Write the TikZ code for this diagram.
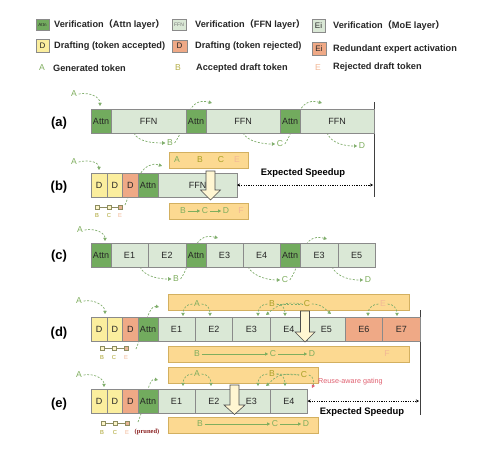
\documentclass[tikz,border=0pt]{standalone}
\usepackage{fontspec}
\setmainfont{Liberation Sans}
\newfontfamily\cjk{Noto Sans CJK SC}
\newfontfamily\serifb{Liberation Serif}
\usetikzlibrary{arrows.meta}
\definecolor{attn}{HTML}{72AB5E}
\definecolor{ffn}{HTML}{DAE8D6}
\definecolor{dyel}{HTML}{FBEE9E}
\definecolor{dred}{HTML}{EFA986}
\definecolor{tokfill}{HTML}{FCD991}
\definecolor{tokborder}{HTML}{D3B060}
\definecolor{cellborder}{HTML}{8A8A8A}
\definecolor{arcgreen}{HTML}{80AE6C}
\definecolor{tokgreen}{HTML}{7FAE5E}
\definecolor{olive}{HTML}{A8A026}
\definecolor{peach}{HTML}{F2B896}
\definecolor{gatered}{HTML}{E06070}
\definecolor{prunedred}{HTML}{8B2020}
\definecolor{arrowfill}{HTML}{FFF6D2}
\definecolor{sqborder}{HTML}{8C8C60}
\definecolor{sqfill}{HTML}{FDF5C8}
\definecolor{sqred}{HTML}{E8B494}
\newcommand\mkcell[7]{\node[cellbox,fill=#6,minimum width=#3pt,minimum height=#5pt] (#1) at ({#2+#3/2},{#4+#5/2}) {#7};}
\newcommand\mktok[5]{\node[tokbox,minimum width=#3pt,minimum height=#5pt] (#1) at ({#2+#3/2},{#4+#5/2}) {};}
\begin{document}
\begin{tikzpicture}[x=1pt,y=-1pt,
 cellbox/.style={draw=cellborder, line width=0.5pt, inner sep=0pt, outer sep=0pt, font=\fontsize{9}{10}\selectfont, text=black!85},
 tokbox/.style={draw=tokborder, fill=tokfill, line width=0.5pt, inner sep=0pt, outer sep=0pt},
 tok/.style={inner sep=1.5pt, font=\fontsize{8.6}{9}\selectfont},
 arcline/.style={draw=arcgreen, line width=0.7pt, dash pattern=on 2pt off 1.6pt, -{Triangle[length=3.2pt,width=3.4pt]}},
 tokarrow/.style={draw=tokgreen, line width=0.6pt, -{Triangle[length=3pt,width=3pt]}},
 lbl/.style={font=\bfseries\fontsize{13}{14}\selectfont},
 legtext/.style={anchor=west, inner sep=0pt, font=\bfseries\fontsize{9.2}{10}\selectfont, text=black!85},
 speed/.style={font=\bfseries\fontsize{9.4}{10}\selectfont, inner sep=0pt},
 dotarrow/.style={line width=0.6pt, dash pattern=on 1.2pt off 1.2pt, {Stealth[length=3pt,width=3pt]}-{Stealth[length=3pt,width=3pt]}},
 vline/.style={line width=0.9pt, draw=black!75},
 bigarrow/.style={fill=arrowfill, draw=black!70, line width=0.6pt, line join=miter},
 sq/.style={draw=sqborder, fill=sqfill, line width=0.4pt, minimum size=3.6pt, inner sep=0pt},
 sqline/.style={draw=sqborder, line width=0.4pt},
 sqlab/.style={font=\fontsize{5.8}{6}\selectfont, inner sep=0pt},
]
\useasboundingbox (0,0) rectangle (481,460);
\fill[white] (0,0) rectangle (481,460);

% ---------------- legend ----------------
\node[cellbox, fill=attn, minimum width=13pt, minimum height=11pt, font=\fontsize{4.5}{5}\selectfont] (lg1) at (42.5,24.5) {Attn};
\node[legtext] (lt1) at (54,24.5) {Verification{\cjk（}Attn layer{\cjk）}};
\node[cellbox, fill=ffn, minimum width=14pt, minimum height=11pt, font=\fontsize{5}{5}\selectfont, text=black!55] (lg2) at (179,24.5) {FFN};
\node[legtext] (lt2) at (195,24.5) {Verification{\cjk（}FFN layer{\cjk）}};
\node[cellbox, fill=ffn, minimum width=13pt, minimum height=13pt, font=\fontsize{8}{8}\selectfont] (lg3) at (318.5,25.5) {Ei};
\node[legtext] (lt3) at (333,25.5) {Verification{\cjk（}MoE layer{\cjk）}};
\node[cellbox, fill=dyel, minimum width=13pt, minimum height=13pt, font=\fontsize{8}{8}\selectfont] (lg4) at (42.5,45.5) {D};
\node[legtext] (lt4) at (54,46) {Drafting (token accepted)};
\node[cellbox, fill=dred, minimum width=15pt, minimum height=12pt, font=\fontsize{8}{8}\selectfont] (lg5) at (179.5,46) {D};
\node[legtext] (lt5) at (195,46) {Drafting (token rejected)};
\node[cellbox, fill=dred, minimum width=14pt, minimum height=13pt, font=\fontsize{8}{8}\selectfont] (lg6) at (319,48.5) {Ei};
\node[legtext] (lt6) at (333,49) {Redundant expert activation};
\node[tok, text=tokgreen] (lg7) at (42,68) {A};
\node[legtext] (lt7) at (53,68) {Generated token};
\node[tok, text=olive!85] (lg8) at (178,68) {B};
\node[legtext] (lt8) at (196,68) {Accepted draft token};
\node[tok, text=peach] (lg9) at (318,68) {E};
\node[legtext] (lt9) at (333,67) {Rejected draft token};

% ---------------- row labels ----------------
\node[lbl] (la) at (59,123) {(a)};
\node[lbl] (lb) at (59,187) {(b)};
\node[lbl] (lc) at (59,256) {(c)};
\node[lbl] (ld) at (59,333) {(d)};
\node[lbl] (le) at (59,404) {(e)};

% ---------------- vertical lines ----------------
\coordinate (v1t) at (374,102); \coordinate (v1b) at (374,197);
\draw[vline] (v1t) -- (v1b);
\coordinate (v2t) at (420,310); \coordinate (v2b) at (420,415);
\draw[vline] (v2t) -- (v2b);

% ---------------- row (a) ----------------
\node[tok, text=tokgreen] (aA) at (74,94) {A};
\node[tok, text=tokgreen] (aB) at (170,143) {B};
\node[tok, text=tokgreen] (aC) at (280,144) {C};
\node[tok, text=tokgreen] (aD) at (362,146) {D};
\coordinate (ta0) at (100,106);
\coordinate (ta1) at (212,103);
\coordinate (ta2) at (322,103);
\coordinate (sa1) at (134,133);
\coordinate (sa2) at (243,133);
\coordinate (sa3) at (327,133);
\draw[arcline] (aA.east) .. controls +(12,-2) and +(0,-9) .. (ta0);
\draw[arcline] (sa1) .. controls +(4,9) and +(-12,0) .. (aB.west);
\draw[arcline] (aB.east) .. controls +(13,-17) and +(-26,-7) .. (ta1);
\draw[arcline] (sa2) .. controls +(5,9) and +(-12,0) .. (aC.west);
\draw[arcline] (aC.east) .. controls +(12,-17) and +(-26,-7) .. (ta2);
\draw[arcline] (sa3) .. controls +(5,11) and +(-12,0) .. (aD.west);
\mkcell{a1}{91}{20}{109}{24}{attn}{Attn}
\mkcell{a2}{111}{75}{109}{24}{ffn}{FFN}
\mkcell{a3}{186}{20}{109}{24}{attn}{Attn}
\mkcell{a4}{206}{74}{109}{24}{ffn}{FFN}
\mkcell{a5}{280}{20}{109}{24}{attn}{Attn}
\mkcell{a6}{300}{74}{109}{24}{ffn}{FFN}

% ---------------- row (b) ----------------
\node[tok, text=tokgreen] (bA) at (74,162) {A};
\node[sq] (bs1) at (97,207) {};
\node[sq] (bs2) at (109,207) {};
\node[sq, fill=sqred] (bs3) at (120,207) {};
\draw[sqline] (bs1) -- (bs2) -- (bs3);
\node[sqlab, text=olive] (bl1) at (97,216) {B};
\node[sqlab, text=olive] (bl2) at (109,216) {C};
\node[sqlab, text=peach] (bl3) at (120,216) {E};
\coordinate (tb0) at (99,170);
\coordinate (sb1) at (125,205);
\coordinate (tb1) at (162,166);
\draw[arcline] (bA.east) .. controls +(12,-3) and +(0,-7) .. (tb0);
\draw[arcline] (sb1) .. controls +(10,-25) and +(-18,-6) .. (tb1);
\mkcell{b1}{91}{16}{173}{24}{dyel}{D}
\mkcell{b2}{107}{15.5}{173}{24}{dyel}{D}
\mkcell{b3}{122.5}{15.5}{173}{24}{dred}{D}
\mkcell{b4}{138}{20}{173}{24}{attn}{Attn}
\mkcell{b5}{158}{79}{173}{24}{ffn}{FFN}
\mktok{btop}{169}{79}{152}{16}
\node[tok, text=tokgreen] (bt1) at (177,160) {A};
\node[tok, text=olive] (bt2) at (200,160) {B};
\node[tok, text=olive] (bt3) at (221,160) {C};
\node[tok, text=peach] (bt4) at (237,160) {E};
\mktok{bbot}{169}{79}{203}{16}
\node[tok, text=tokgreen] (bb1) at (183,211) {B};
\node[tok, text=tokgreen] (bb2) at (205,211) {C};
\node[tok, text=tokgreen] (bb3) at (226,211) {D};
\node[tok, text=peach] (bb4) at (241,211) {F};
\draw[tokarrow] (bb1) -- (bb2);
\draw[tokarrow] (bb2) -- (bb3);
\draw[bigarrow] (206,171) -- (215,171) -- (215,190) -- (220.5,190) -- (210.5,200) -- (200.5,190) -- (206,190) -- cycle;
\node[speed] (sp1) at (303,173) {Expected Speedup};
\coordinate (s1r) at (373,185);
\draw[dotarrow] (b5.east) -- (s1r);

% ---------------- row (c) ----------------
\node[tok, text=tokgreen] (cA) at (80,230) {A};
\node[tok, text=tokgreen] (cB) at (176,279) {B};
\node[tok, text=tokgreen] (cC) at (285,280) {C};
\node[tok, text=tokgreen] (cD) at (368,280) {D};
\coordinate (tc0) at (105,241);
\coordinate (tc1) at (218,238);
\coordinate (tc2) at (327,239);
\coordinate (sc1) at (140,267);
\coordinate (sc2) at (248,267);
\coordinate (sc3) at (332,267);
\draw[arcline] (cA.east) .. controls +(11,-2) and +(0,-8) .. (tc0);
\draw[arcline] (sc1) .. controls +(5,10) and +(-12,0) .. (cB.west);
\draw[arcline] (cB.east) .. controls +(12,-17) and +(-26,-7) .. (tc1);
\draw[arcline] (sc2) .. controls +(6,10) and +(-12,0) .. (cC.west);
\draw[arcline] (cC.east) .. controls +(12,-17) and +(-26,-7) .. (tc2);
\draw[arcline] (sc3) .. controls +(6,11) and +(-12,0) .. (cD.west);
\mkcell{c1}{91}{20}{243}{24}{attn}{Attn}
\mkcell{c2}{111}{37}{243}{24}{ffn}{E1}
\mkcell{c3}{148}{38}{243}{24}{ffn}{E2}
\mkcell{c4}{186}{20}{243}{24}{attn}{Attn}
\mkcell{c5}{206}{37}{243}{24}{ffn}{E3}
\mkcell{c6}{243}{37}{243}{24}{ffn}{E4}
\mkcell{c7}{280}{20}{243}{24}{attn}{Attn}
\mkcell{c8}{300}{38}{243}{24}{ffn}{E3}
\mkcell{c9}{338}{37}{243}{24}{ffn}{E5}

% ---------------- row (d) ----------------
\node[tok, text=tokgreen] (dA0) at (79,301) {A};
\node[sq] (ds1) at (102,348) {};
\node[sq] (ds2) at (114,348) {};
\node[sq, fill=sqred] (ds3) at (126,348) {};
\draw[sqline] (ds1) -- (ds2) -- (ds3);
\node[sqlab, text=olive] (dl1) at (102,357) {B};
\node[sqlab, text=olive] (dl2) at (114,357) {C};
\node[sqlab, text=peach] (dl3) at (126,357) {E};
\coordinate (td0) at (105,314);
\coordinate (sd1) at (136,349);
\coordinate (td1) at (159,307);
\draw[arcline] (dA0.east) .. controls +(11,-2) and +(0,-8) .. (td0);
\draw[arcline] (sd1) .. controls +(10,-25) and +(-10,-2) .. (td1);
\mktok{dtop}{168}{241}{294}{16}
\mktok{dbot}{168}{241}{346}{16}
\mkcell{d1}{91}{16}{317}{24}{dyel}{D}
\mkcell{d2}{107}{15.5}{317}{24}{dyel}{D}
\mkcell{d3}{122.5}{15.5}{317}{24}{dred}{D}
\mkcell{d4}{138}{20}{317}{24}{attn}{Attn}
\mkcell{d5}{158}{37}{317}{24}{ffn}{E1}
\mkcell{d6}{195}{37.5}{317}{24}{ffn}{E2}
\mkcell{d7}{232.5}{37.5}{317}{24}{ffn}{E3}
\mkcell{d8}{270}{37.5}{317}{24}{ffn}{E4}
\mkcell{d9}{307.5}{37.5}{317}{24}{ffn}{E5}
\mkcell{d10}{345}{37.5}{317}{24}{dred}{E6}
\mkcell{d11}{382.5}{37.5}{317}{24}{dred}{E7}
\node[tok, text=tokgreen] (dA) at (197,304) {A};
\node[tok, text=olive] (dB) at (272,304) {B};
\node[tok, text=olive] (dC) at (307,304) {C};
\node[tok, text=peach] (dE) at (383,304) {E};
\coordinate (dt1) at (183,316);
\coordinate (dt2) at (210,316);
\coordinate (dt3) at (258,316);
\coordinate (dt4) at (285,316);
\coordinate (dt5) at (266,315);
\coordinate (dt6) at (331,314);
\coordinate (dt7) at (368,316);
\coordinate (dt8) at (397,316);
\draw[arcline] (dA.west) .. controls +(-6,0) and +(0,-7) .. (dt1);
\draw[arcline] (dA.east) .. controls +(6,0) and +(0,-7) .. (dt2);
\draw[arcline] (dB.west) .. controls +(-6,0) and +(0,-7) .. (dt3);
\draw[arcline] (dB.east) .. controls +(6,0) and +(0,-7) .. (dt4);
\draw[arcline,-] (dB.east) -- (dC.west);
\draw[arcline] (dC.west) .. controls +(-22,-4) and +(6,-5) .. (dt5);
\draw[arcline] (dC.east) .. controls +(10,0) and +(-6,-5) .. (dt6);
\draw[arcline] (dE.west) .. controls +(-6,0) and +(0,-7) .. (dt7);
\draw[arcline] (dE.east) .. controls +(6,0) and +(0,-7) .. (dt8);
\node[tok, text=tokgreen] (db1) at (197,354) {B};
\node[tok, text=tokgreen] (db2) at (273,354) {C};
\node[tok, text=tokgreen] (db3) at (312,354) {D};
\node[tok, text=peach] (db4) at (387,354) {F};
\draw[tokarrow] (db1) -- (db2);
\draw[tokarrow] (db2) -- (db3);
\draw[bigarrow] (300.5,311) -- (309.5,311) -- (309.5,332) -- (315,332) -- (305,342) -- (295,332) -- (300.5,332) -- cycle;

% ---------------- row (e) ----------------
\node[tok, text=tokgreen] (eA0) at (79,375) {A};
\node[sq] (es1) at (103,423) {};
\node[sq] (es2) at (115,423) {};
\node[sq, fill=sqred] (es3) at (127,423) {};
\draw[sqline] (es1) -- (es2) -- (es3);
\node[sqlab, text=olive] (el1) at (102,432) {B};
\node[sqlab, text=olive] (el2) at (115,432) {C};
\node[sqlab, text=peach] (el3) at (127,432) {E};
\node[inner sep=0pt, text=prunedred, font=\serifb\bfseries\fontsize{6.5}{7}\selectfont] (pr) at (147,432) {(pruned)};
\coordinate (te0) at (104,387);
\coordinate (se1) at (138,422);
\coordinate (te1) at (158,380);
\draw[arcline] (eA0.east) .. controls +(11,-2) and +(0,-8) .. (te0);
\draw[arcline] (se1) .. controls +(10,-25) and +(-10,-2) .. (te1);
\mktok{etop}{168}{150}{367}{16}
\mktok{ebot}{168}{150}{417}{16}
\mkcell{e1}{91}{16}{389}{24}{dyel}{D}
\mkcell{e2}{107}{15.5}{389}{24}{dyel}{D}
\mkcell{e3}{122.5}{15.5}{389}{24}{dred}{D}
\mkcell{e4}{138}{20}{389}{24}{attn}{Attn}
\mkcell{e5}{158}{37}{389}{24}{ffn}{E1}
\mkcell{e6}{195}{37.5}{389}{24}{ffn}{E2}
\mkcell{e7}{232.5}{37.5}{389}{24}{ffn}{E3}
\mkcell{e8}{270}{37.5}{389}{24}{ffn}{E4}
\node[tok, text=tokgreen] (eA) at (197,374) {A};
\node[tok, text=olive] (eB) at (272,374) {B};
\node[tok, text=olive] (eC) at (304,375) {C};
\coordinate (et1) at (183,386);
\coordinate (et2) at (211,386);
\coordinate (et3) at (258,386);
\coordinate (et4) at (285,386);
\coordinate (et5) at (266,386);
\coordinate (gtip) at (312,388);
\draw[arcline] (eA.west) .. controls +(-6,0) and +(0,-7) .. (et1);
\draw[arcline] (eA.east) .. controls +(6,0) and +(0,-7) .. (et2);
\draw[arcline] (eB.west) .. controls +(-6,0) and +(0,-7) .. (et3);
\draw[arcline] (eB.east) .. controls +(6,0) and +(0,-7) .. (et4);
\draw[arcline,-] (eB.east) -- (eC.west);
\draw[arcline] (eC.west) .. controls +(-22,-4) and +(6,-5) .. (et5);
\draw[arcline, -{Triangle[length=3.2pt,width=3.4pt,color=gatered]}] (eC.east) .. controls +(5,0) and +(2,-4) .. (gtip);
\node[anchor=west, inner sep=0pt, text=gatered, font=\fontsize{7.2}{8}\selectfont] (gate) at (318,382) {Reuse-aware gating};
\node[tok, text=tokgreen] (eb1) at (200,424) {B};
\node[tok, text=tokgreen] (eb2) at (275,424) {C};
\node[tok, text=tokgreen] (eb3) at (306,424) {D};
\draw[tokarrow] (eb1) -- (eb2);
\draw[tokarrow] (eb2) -- (eb3);
\draw[bigarrow] (230,385) -- (239,385) -- (239,405) -- (245,405) -- (234.5,414.5) -- (224,405) -- (230,405) -- cycle;
\node[speed] (sp2) at (362,412) {Expected Speedup};
\coordinate (s2r) at (419,401);
\draw[dotarrow] (e8.east) -- (s2r);
\end{tikzpicture}
\end{document}
